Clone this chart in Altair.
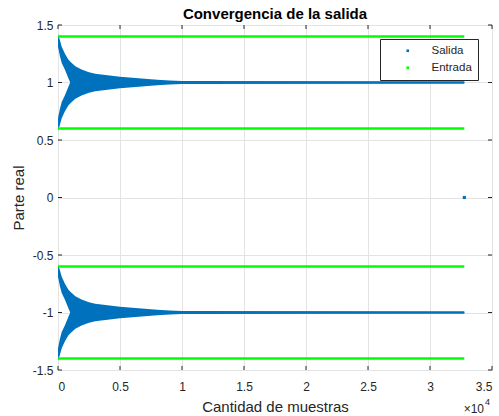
import altair as alt
import pandas as pd

# Salida: envelope of the converging output
samples = [0, 150, 300, 560, 830, 1000, 1400, 1900, 2500, 3000, 4000, 5000, 6000, 7000, 8000, 9000, 10000, 32768]
outer = [0.42, 0.37, 0.31, 0.25, 0.20, 0.18, 0.142, 0.112, 0.09, 0.077, 0.062, 0.051, 0.041, 0.032, 0.024, 0.018, 0.012, 0.011]
inner = [0.31, 0.23, 0.17, 0.11, 0.04, -0.005, -0.005, -0.005, -0.005, -0.005, -0.005, -0.005, -0.005, -0.005, -0.005, -0.005, -0.005, -0.005]
centers = [1.0, -1.0]
last_point_x = [32768]
last_point_y = [0.0]

# Entrada levels
entrada_levels = [1.4, 0.6, -0.6, -1.4]
entrada_start = 0
entrada_end = 32768

x_ticks = [0, 5000, 10000, 15000, 20000, 25000, 30000, 35000]
y_ticks = [-1.5, -1.0, -0.5, 0.0, 0.5, 1.0, 1.5]

BLUE = "#0072BD"
GREEN = "#00FF00"
FONT = "Liberation Sans"
TXT = "#262626"

rows = []
for c in centers:
    for arm in (1, -1):
        band = f"{c}_{arm}"
        for s, o, i in zip(samples, outer, inner):
            a = c + arm * i
            b = c + arm * o
            rows.append({"x": s, "lo": min(a, b), "hi": max(a, b), "band": band})
salida_df = pd.DataFrame(rows)

entrada_df = pd.DataFrame({"y": entrada_levels, "x": [entrada_start] * 4, "x2": [entrada_end] * 4})
point_df = pd.DataFrame({"x": last_point_x, "y": last_point_y, "serie": ["Salida"]})

xscale = alt.Scale(domain=[0, 35000], nice=False, zero=False)
yscale = alt.Scale(domain=[-1.5, 1.5], nice=False, zero=False)
cscale = alt.Scale(domain=["Salida", "Entrada"], range=[BLUE, GREEN])

xaxis = alt.Axis(values=x_ticks, labelExpr="datum.value / 10000 + ''", grid=True, ticks=False, domain=False,
                 title="Cantidad de muestras", labelFontSize=12, labelPadding=11, labelColor=TXT, labelFont=FONT,
                 titleFont=FONT, titleFontSize=15, titleFontWeight="normal", titleColor=TXT,
                 titleX=217, titleY=36, titleBaseline="middle", titleAlign="center",
                 gridColor="#e3e3e3", gridWidth=1)
yaxis = alt.Axis(values=y_ticks, labelExpr="datum.value + ''", grid=True, ticks=False, domain=False,
                 title="Parte real", labelFontSize=12, labelPadding=5, labelColor=TXT, labelFont=FONT,
                 titleFont=FONT, titleFontSize=15, titleFontWeight="normal", titleColor=TXT,
                 titleX=-40, titleY=172.5, titleAngle=270, titleBaseline="middle", titleAlign="center",
                 gridColor="#e3e3e3", gridWidth=1)

area = alt.Chart(salida_df).mark_area(opacity=1, interpolate="linear", color=BLUE).encode(
    x=alt.X("x:Q", scale=xscale, axis=xaxis),
    y=alt.Y("lo:Q", scale=yscale, axis=yaxis),
    y2="hi:Q",
    detail="band:N",
)

entrada = alt.Chart(entrada_df).mark_rule(strokeWidth=2.6, color=GREEN).encode(
    x=alt.X("x:Q", scale=xscale),
    x2="x2:Q",
    y=alt.Y("y:Q", scale=yscale),
)

point = alt.Chart(point_df).mark_square(size=10, opacity=1).encode(
    x=alt.X("x:Q", scale=xscale),
    y=alt.Y("y:Q", scale=yscale),
    color=alt.Color("serie:N", scale=cscale, legend=alt.Legend(
        title=None, orient="none", legendX=322, legendY=14, symbolType="square", symbolSize=7,
        symbolOffset=16, labelOffset=18, padding=6, rowPadding=4, labelFont=FONT, labelFontSize=11.5,
        labelExpr="datum.label + '    '",
        labelColor=TXT, strokeColor="#262626", fillColor="white", symbolStrokeWidth=0, cornerRadius=0)),
)

tick_len = 4
xt_df = pd.DataFrame({"x": x_ticks})
yt_df = pd.DataFrame({"y": y_ticks})
xt_bottom = alt.Chart(xt_df).mark_rule(color=TXT, strokeWidth=1).encode(
    x=alt.X("x:Q", scale=xscale), y=alt.value(345), y2=alt.value(345 - tick_len))
xt_top = alt.Chart(xt_df).mark_rule(color=TXT, strokeWidth=1).encode(
    x=alt.X("x:Q", scale=xscale), y=alt.value(0), y2=alt.value(tick_len))
yt_left = alt.Chart(yt_df).mark_rule(color=TXT, strokeWidth=1).encode(
    y=alt.Y("y:Q", scale=yscale), x=alt.value(0), x2=alt.value(tick_len))
yt_right = alt.Chart(yt_df).mark_rule(color=TXT, strokeWidth=1).encode(
    y=alt.Y("y:Q", scale=yscale), x=alt.value(434), x2=alt.value(434 - tick_len))

exp_df = pd.DataFrame({"t": ["×10"], "e": ["4"]})
exp_base = alt.Chart(exp_df).mark_text(font=FONT, fontSize=12, color=TXT, align="right", baseline="middle").encode(
    text="t:N", x=alt.value(426), y=alt.value(384))
exp_sup = alt.Chart(exp_df).mark_text(font=FONT, fontSize=9, color=TXT, align="left", baseline="middle").encode(
    text="e:N", x=alt.value(427), y=alt.value(377))

chart = alt.layer(area, entrada, point, xt_bottom, xt_top, yt_left, yt_right, exp_base, exp_sup).properties(
    width=434, height=345,
    title=alt.TitleParams("Convergencia de la salida", font=FONT, fontSize=15, fontWeight="bold",
                          color="#000000", anchor="middle", offset=-3),
    autosize=alt.AutoSizeParams(type="none"),
    padding={"left": 58, "top": 25, "right": 7, "bottom": 46},
).configure_view(stroke="#8a8a8a", strokeWidth=1.2).configure(background="white")

chart.save("out.html", embed_options={"renderer": "svg", "actions": False})
